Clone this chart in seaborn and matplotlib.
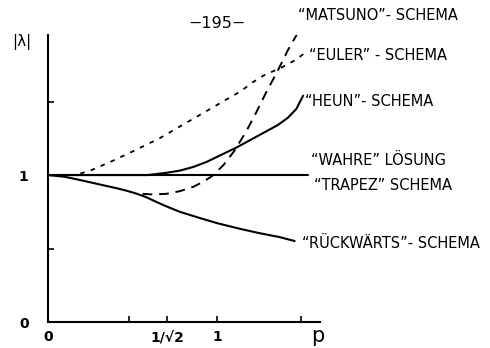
import matplotlib
matplotlib.use("Agg")
import matplotlib.pyplot as plt
import seaborn as sns
import numpy as np

sns.set_theme(style="white")
plt.rcParams['font.family'] = ['DejaVu Sans']
plt.rcParams['text.color'] = 'black'
plt.rcParams['xtick.color'] = 'black'
plt.rcParams['ytick.color'] = 'black'

# ---- data ----
true_p = [0.0, 1.54]
true_y = [1.0, 1.0]

euler_p = [0.0, 0.16, 0.25, 0.37, 0.50, 0.66, 0.78, 0.90, 1.02, 1.14, 1.21, 1.28, 1.38, 1.46, 1.52]
euler_y = [1.0, 1.00, 1.03, 1.09, 1.16, 1.25, 1.33, 1.41, 1.49, 1.57, 1.63, 1.68, 1.73, 1.78, 1.83]

heun_p = [0.0, 0.59, 0.70, 0.78, 0.86, 0.94, 1.03, 1.12, 1.20, 1.28, 1.36, 1.42, 1.47, 1.51]
heun_y = [1.0, 1.00, 1.015, 1.03, 1.055, 1.09, 1.14, 1.19, 1.24, 1.29, 1.34, 1.39, 1.45, 1.54]

back_p = [0.0, 0.10, 0.19, 0.31, 0.40, 0.46, 0.52, 0.58, 0.64, 0.69, 0.78, 0.90, 1.00, 1.14, 1.25, 1.37, 1.46]
back_y = [1.0, 0.988, 0.966, 0.935, 0.912, 0.895, 0.875, 0.850, 0.818, 0.792, 0.750, 0.707, 0.673, 0.633, 0.605, 0.578, 0.551]

mats_p = [0.56, 0.62, 0.70, 0.78, 0.86, 0.92, 0.98, 1.04, 1.10, 1.17, 1.23, 1.29, 1.36, 1.42, 1.48]
mats_y = [0.872, 0.868, 0.872, 0.89, 0.92, 0.955, 1.00, 1.07, 1.16, 1.29, 1.42, 1.56, 1.71, 1.85, 1.97]

xtick_pos = [0.0, 0.48, 0.707, 1.0, 1.5]
xtick_lab = ["0", "", "1/\u221a2", "1", ""]
ytick_pos = [0.0, 0.5, 1.0, 1.5]
ytick_lab = ["0", "", "1", ""]

labels = ['\u201cMATSUNO\u201d- SCHEMA', '\u201cEULER\u201d - SCHEMA', '\u201cHEUN\u201d- SCHEMA',
          '\u201cWAHRE\u201d L\u00d6SUNG', '\u201cTRAPEZ\u201d SCHEMA', '\u201cR\u00dcCKW\u00c4RTS\u201d- SCHEMA']
label_px = [(298, 15), (309, 55), (305, 101), (311, 160), (314, 185), (302, 243)]

W, H = 490, 348
fig = plt.figure(figsize=(W / 100, H / 100), dpi=100)
ax = fig.add_axes([48 / W, (H - 322) / H, (320 - 48) / W, (322 - 35) / H])
ax.set_xlim(0, 1.61)
ax.set_ylim(0, 1.953)
ax.patch.set_alpha(0)

lw = 1.5
sns.lineplot(x=true_p, y=true_y, ax=ax, color="black", lw=lw)
sns.lineplot(x=back_p, y=back_y, ax=ax, color="black", lw=lw)
sns.lineplot(x=heun_p, y=heun_y, ax=ax, color="black", lw=lw)
sns.lineplot(x=euler_p, y=euler_y, ax=ax, color="black", lw=1.3, linestyle=(0, (2.5, 3.5)))
sns.lineplot(x=mats_p, y=mats_y, ax=ax, color="black", lw=1.4, linestyle=(0, (5, 3.5)))

for s in ["top", "right"]:
    ax.spines[s].set_visible(False)
for s in ["left", "bottom"]:
    ax.spines[s].set_color("black")
    ax.spines[s].set_linewidth(1.5)

ax.set_xticks(xtick_pos)
ax.set_xticklabels(xtick_lab)
ax.set_yticks(ytick_pos)
ax.set_yticklabels(ytick_lab)
ax.tick_params(axis="both", direction="in", length=4, width=1.2, colors="black",
               labelsize=10, pad=6, left=True, bottom=True)
ax.tick_params(axis="y", pad=14)
for t in ax.get_xticklabels() + ax.get_yticklabels():
    t.set_fontweight("bold")

fig.text(22 / W, 1 - 42 / H, "|\u03bb|", fontsize=11, ha="center", va="center")
fig.text(318 / W, 1 - 336 / H, "p", fontsize=15, ha="center", va="center")
fig.text(217 / W, 1 - 23 / H, "\u2212195\u2212", fontsize=11.5, ha="center", va="center")

for lab, (px, py) in zip(labels, label_px):
    fig.text(px / W, 1 - py / H, lab, fontsize=10.5, ha="left", va="center")

fig.savefig("out.png", dpi=100)
